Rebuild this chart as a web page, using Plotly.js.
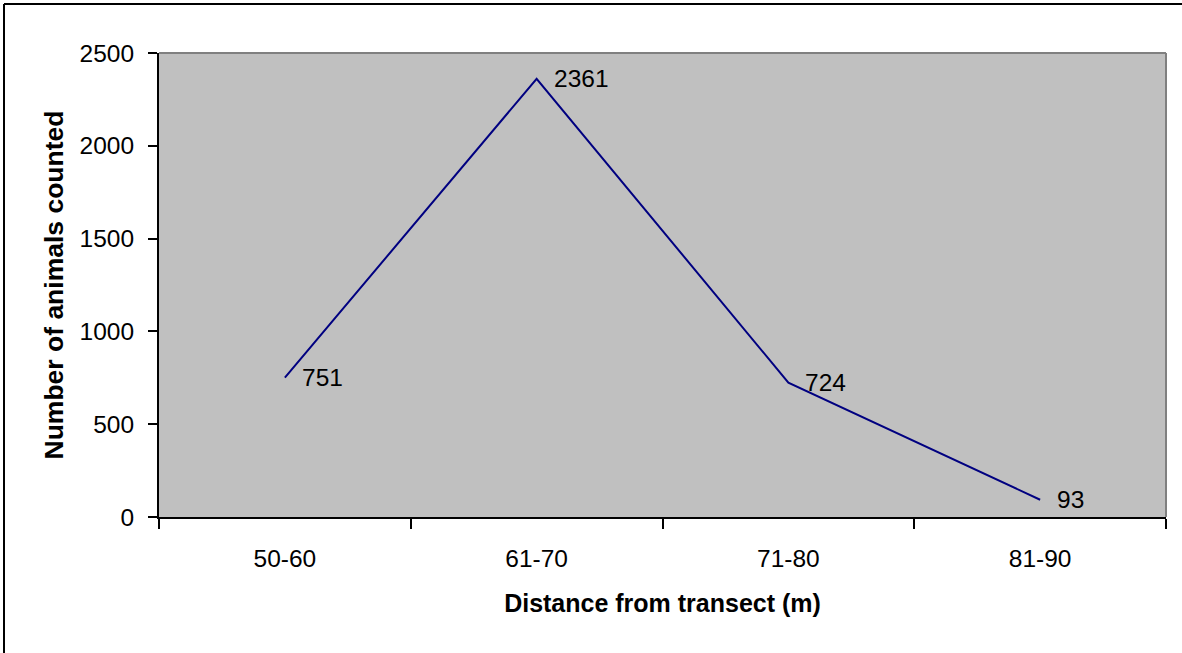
<!DOCTYPE html>
<html>
<head>
<meta charset="utf-8">
<script src="https://cdn.plot.ly/plotly-3.0.1.min.js"></script>
<style>html,body{margin:0;padding:0;background:#fff;}#chart{width:1182px;height:653px;}</style>
</head>
<body>
<div id="chart"></div>
<script>
var categories = ["50-60", "61-70", "71-80", "81-90"];
var counts = [751, 2361, 724, 93];
var yTicks = [0, 500, 1000, 1500, 2000, 2500];
var xTitle = "Distance from transect (m)";
var yTitle = "Number of animals counted";

var FONT = "Arial, 'Liberation Sans', sans-serif";
var L = 159, R = 16, T = 53, B = 136, W = 1182, H = 653;
var pw = W - L - R, ph = H - T - B;
function px(x){ return (x - L) / pw; }
function py(y){ return (H - B - y) / ph; }

var trace = {
  x: categories,
  y: counts,
  type: "scatter",
  mode: "lines",
  line: {color: "#000080", width: 2},
  hoverinfo: "x+y"
};

var annotations = categories.map(function(c, i){
  return {x: c, y: counts[i], xref: "x", yref: "y", text: String(counts[i]),
    showarrow: false, xanchor: "left", yanchor: "middle", xshift: 15, yshift: 0,
    font: {family: FONT, size: 24.5, color: "#000"}};
});

var layout = {
  width: W, height: H,
  margin: {l: L, r: R, t: T, b: B, pad: 0},
  paper_bgcolor: "#ffffff",
  plot_bgcolor: "#C0C0C0",
  showlegend: false,
  font: {family: FONT, size: 24, color: "#000"},
  xaxis: {
    type: "category",
    range: [-0.5, categories.length - 0.5],
    tickson: "boundaries",
    ticks: "outside", ticklen: 10, tickwidth: 2, tickcolor: "#000",
    showline: true, linecolor: "#000", linewidth: 2,
    showgrid: false, zeroline: false,
    tickfont: {family: FONT, size: 24.5},
    ticklabelstandoff: 19,
    title: {text: xTitle, font: {family: FONT, size: 25, weight: "bold"}, standoff: 23}
  },
  yaxis: {
    range: [0, 2500],
    tickvals: yTicks,
    ticks: "outside", ticklen: 9, tickwidth: 2, tickcolor: "#000",
    showline: true, linecolor: "#000", linewidth: 2,
    showgrid: false, zeroline: false,
    tickfont: {family: FONT, size: 24.5},
    ticklabelstandoff: 9,
    title: {text: yTitle, font: {family: FONT, size: 26.5, weight: "bold"}, standoff: 8}
  },
  annotations: annotations,
  shapes: [
    {type: "line", xref: "paper", yref: "paper", x0: 0, x1: 1, y0: 1, y1: 1, line: {color: "#808080", width: 2}, layer: "above"},
    {type: "line", xref: "paper", yref: "paper", x0: 1, x1: 1, y0: 0, y1: 1, line: {color: "#808080", width: 2}, layer: "above"},
    {type: "line", xref: "paper", yref: "paper", x0: px(4), x1: px(4), y0: py(4), y1: py(H + 10), line: {color: "#000", width: 2}},
    {type: "line", xref: "paper", yref: "paper", x0: px(4), x1: px(W + 10), y0: py(4), y1: py(4), line: {color: "#000", width: 2}}
  ]
};

Plotly.newPlot("chart", [trace], layout, {staticPlot: true, displayModeBar: false});
</script>
</body>
</html>
